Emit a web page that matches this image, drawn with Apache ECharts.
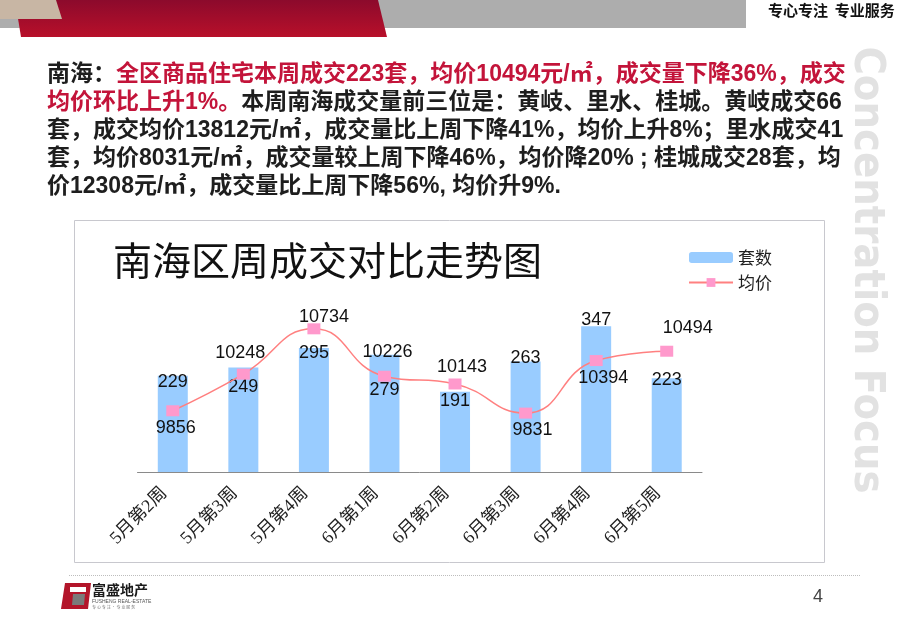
<!DOCTYPE html>
<html><head><meta charset="utf-8">
<script src="https://cdn.jsdelivr.net/npm/echarts@6/dist/echarts.min.js"></script>
<style>html,body{margin:0;padding:0;background:#fff;}#main{width:920px;height:626px;}</style>
</head><body><div id="main"></div>
<script>
// ---- data ----
const categories = ['5月第2周','5月第3周','5月第4周','6月第1周','6月第2周','6月第3周','6月第4周','6月第5周'];
const units = [229, 249, 295, 279, 191, 263, 347, 223];
const avgPrice = [9856, 10248, 10734, 10226, 10143, 9831, 10394, 10494];
const seriesNames = ['套数', '均价'];
const chartTitle = '南海区周成交对比走势图';
const headerSlogan = '专心专注  专业服务';
const watermarkText = 'Concentration Focus';
const pageNumber = '4';
const logoName = '富盛地产';
const logoSub = 'FUSHENG REAL-ESTATE';
const paragraphLines = [
  [['南海：', 'd'], ['全区商品住宅本周成交223套，均价10494元/㎡，成交量下降36%，成交', 'r']],
  [['均价环比上升1%。', 'r'], ['本周南海成交量前三位是：黄岐、里水、桂城。黄岐成交66', 'd']],
  [['套，成交均价13812元/㎡，成交量比上周下降41%，均价上升8%；里水成交41', 'd']],
  [['套，均价8031元/㎡，成交量较上周下降46%，均价降20% ; 桂城成交28套，均', 'd']],
  [['价12308元/㎡，成交量比上周下降56%, 均价升9%.', 'd']]
];

// ---- label placement (style) ----
const barLabelDy = [-3, 11, -4, 26, 0, -13, -15, -7];
const lineLabelOffset = [[3, 17], [-3, -21], [10, -12], [3, -24], [7, -17], [7, 17], [7, 17], [21, -23]];

const cjkSans = '"Noto Sans CJK SC", sans-serif';
const latinCjk = '"Liberation Sans", "Noto Sans CJK SC", sans-serif';

const chart = echarts.init(document.getElementById('main'), null, {renderer: 'canvas'});

const paraGraphics = paragraphLines.map((segs, i) => ({
  type: 'text',
  left: 47,
  top: 63 + i * 28,
  z: 100,
  style: {
    text: segs.map(s => '{' + s[1] + '|' + s[0] + '}').join(''),
    rich: {
      d: {fill: '#1e1e1e', fontSize: 23, fontWeight: 'bold', fontFamily: latinCjk},
      r: {fill: '#C3143A', fontSize: 23, fontWeight: 'bold', fontFamily: latinCjk}
    }
  }
}));

const option = {
  animation: false,
  backgroundColor: '#ffffff',
  title: {
    text: chartTitle,
    left: 108,
    top: 236,
    textStyle: {fontSize: 39, fontWeight: 'normal', color: '#111', fontFamily: cjkSans}
  },
  legend: {
    orient: 'vertical',
    left: 683,
    top: 244,
    itemWidth: 44,
    itemHeight: 11,
    itemGap: 8,
    data: seriesNames,
    textStyle: {fontSize: 17, color: '#222', fontFamily: cjkSans}
  },
  grid: {left: 137.5, right: 218, top: 304, bottom: 154},
  xAxis: {
    type: 'category',
    data: categories,
    axisLine: {lineStyle: {color: '#8a8a8a', width: 1}},
    axisTick: {inside: true, length: 5, lineStyle: {color: '#8a8a8a'}},
    axisLabel: {rotate: 45, fontSize: 18, color: '#222', margin: 10, padding: [0, 12, 0, 0],
                fontFamily: '"Liberation Serif", "Noto Sans CJK SC", serif'}
  },
  yAxis: [
    {type: 'value', min: 0, max: 400, show: false, splitLine: {show: false}},
    {type: 'value', min: 9200, max: 11000, show: false, splitLine: {show: false}}
  ],
  series: [
    {
      name: seriesNames[0],
      type: 'bar',
      barWidth: 30,
      itemStyle: {color: '#99CCFF'},
      label: {show: true, position: 'insideTop', distance: 0, fontSize: 18, color: '#111', fontFamily: '"Liberation Sans", sans-serif'},
      data: units.map((v, i) => ({value: v, label: {offset: [0, barLabelDy[i]]}}))
    },
    {
      name: seriesNames[1],
      type: 'line',
      yAxisIndex: 1,
      smooth: true,
      symbol: 'rect',
      symbolSize: [13, 11],
      lineStyle: {color: '#FF8080', width: 1.5},
      itemStyle: {color: '#FF99CC'},
      label: {show: true, position: 'inside', fontSize: 18, color: '#111', fontFamily: '"Liberation Sans", sans-serif'},
      z: 3,
      data: avgPrice.map((v, i) => ({value: v, label: {offset: lineLabelOffset[i]}}))
    }
  ],
  graphic: [
    // header band
    {type: 'rect', shape: {x: 0, y: 0, width: 746, height: 28}, style: {fill: '#ADADAD'}, z: 1},
    {type: 'polygon', shape: {points: [[15, 0], [378, 0], [387, 37], [21, 37]]},
     style: {fill: new echarts.graphic.LinearGradient(0, 0, 0, 1, [{offset: 0, color: '#8C0A2C'}, {offset: 1, color: '#B8102A'}])}, z: 2},
    {type: 'polygon', shape: {points: [[0, 0], [56, 0], [62, 19], [0, 19]]}, style: {fill: '#C8B6A4'}, z: 3},
    {type: 'text', left: 768, top: 3, z: 5, style: {text: headerSlogan, fill: '#111', fontSize: 15, fontWeight: 'bold', fontFamily: cjkSans}},
    // watermark
    {type: 'text', x: 866, y: 270, rotation: -Math.PI / 2, z: 0,
     style: {text: watermarkText, fill: '#E2E2E2', fontSize: 43, fontWeight: 'bold', align: 'center', verticalAlign: 'middle',
             fontFamily: '"Liberation Sans Narrow", "DejaVu Sans Condensed", "Liberation Sans", sans-serif'}},
    // chart frame
    {type: 'rect', shape: {x: 74.5, y: 220.5, width: 750, height: 342}, style: {fill: 'none', stroke: '#C8C8CE', lineWidth: 1}, z: 1, silent: true},
    // footer line
    {type: 'line', shape: {x1: 69, y1: 575.5, x2: 860, y2: 575.5}, style: {stroke: '#BDBDBD', lineWidth: 1, lineDash: [1, 1]}, z: 1},
    // logo
    {type: 'polygon', shape: {points: [[65, 583], [91, 583], [88, 609], [61, 609]]}, style: {fill: '#B3152A'}, z: 5},
    {type: 'polygon', shape: {points: [[73, 594], [85, 594], [84, 605], [72, 605]]}, style: {fill: '#7a7a7a'}, z: 6},
    {type: 'rect', shape: {x: 70, y: 587, width: 16, height: 5}, style: {fill: '#ffffff'}, z: 6},
    {type: 'text', left: 92, top: 583, z: 5, style: {text: logoName, fill: '#1a1a1a', fontSize: 14, fontWeight: 'bold', fontFamily: cjkSans}},
    {type: 'text', left: 92, top: 599, z: 5, style: {text: logoSub, fill: '#555', fontSize: 5, fontFamily: '"Liberation Sans", sans-serif'}},
    {type: 'text', left: 92, top: 605, z: 5, style: {text: '专 心 专 注 · 专 业 服 务', fill: '#777', fontSize: 4, fontFamily: cjkSans}},
    // page number
    {type: 'text', left: 813, top: 588, z: 5, style: {text: pageNumber, fill: '#444', fontSize: 18, fontFamily: '"Liberation Sans", sans-serif'}}
  ].concat(paraGraphics)
};
chart.setOption(option);
</script>
</body></html>
